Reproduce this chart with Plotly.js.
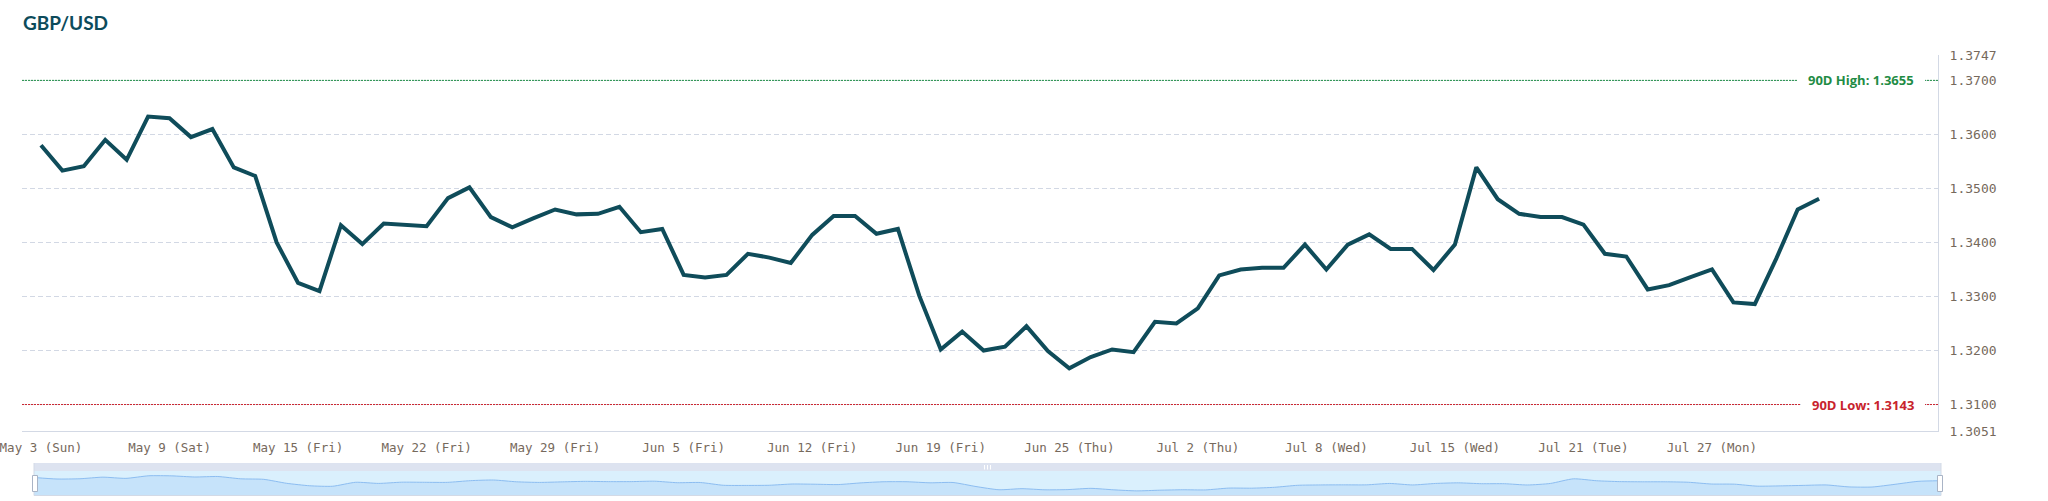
<!DOCTYPE html>
<html>
<head>
<meta charset="utf-8">
<script src="https://cdn.plot.ly/plotly-3.0.1.min.js"></script>
<style>
  html, body { margin:0; padding:0; background:#ffffff; }
  #chart { width:2048px; height:501px; }
</style>
</head>
<body>
<div id="chart"></div>
<script>
// ---------- data ----------
const dates = [
  "May 3 (Sun)","May 4 (Mon)","May 5 (Tue)","May 6 (Wed)","May 7 (Thu)","May 8 (Fri)",
  "May 9 (Sat)","May 10 (Sun)","May 11 (Mon)","May 12 (Tue)","May 13 (Wed)","May 14 (Thu)",
  "May 15 (Fri)","May 17 (Sun)","May 18 (Mon)","May 19 (Tue)","May 20 (Wed)","May 21 (Thu)",
  "May 22 (Fri)","May 24 (Sun)","May 25 (Mon)","May 26 (Tue)","May 27 (Wed)","May 28 (Thu)",
  "May 29 (Fri)","May 31 (Sun)","Jun 1 (Mon)","Jun 2 (Tue)","Jun 3 (Wed)","Jun 4 (Thu)",
  "Jun 5 (Fri)","Jun 7 (Sun)","Jun 8 (Mon)","Jun 9 (Tue)","Jun 10 (Wed)","Jun 11 (Thu)",
  "Jun 12 (Fri)","Jun 14 (Sun)","Jun 15 (Mon)","Jun 16 (Tue)","Jun 17 (Wed)","Jun 18 (Thu)",
  "Jun 19 (Fri)","Jun 20 (Sat)","Jun 21 (Sun)","Jun 22 (Mon)","Jun 23 (Tue)","Jun 24 (Wed)",
  "Jun 25 (Thu)","Jun 26 (Fri)","Jun 28 (Sun)","Jun 29 (Mon)","Jun 30 (Tue)","Jul 1 (Wed)",
  "Jul 2 (Thu)","Jul 3 (Fri)","Jul 4 (Sat)","Jul 5 (Sun)","Jul 6 (Mon)","Jul 7 (Tue)",
  "Jul 8 (Wed)","Jul 9 (Thu)","Jul 10 (Fri)","Jul 12 (Sun)","Jul 13 (Mon)","Jul 14 (Tue)",
  "Jul 15 (Wed)","Jul 16 (Thu)","Jul 17 (Fri)","Jul 18 (Sat)","Jul 19 (Sun)","Jul 20 (Mon)",
  "Jul 21 (Tue)","Jul 22 (Wed)","Jul 23 (Thu)","Jul 24 (Fri)","Jul 25 (Sat)","Jul 26 (Sun)",
  "Jul 27 (Mon)","Jul 28 (Tue)","Jul 29 (Wed)","Jul 30 (Thu)","Jul 31 (Fri)","Aug 1 (Sat)"
];

const rates = [
  1.3580,1.3533,1.3541,1.3590,1.3553,1.3633,1.3630,1.3595,1.3610,1.3539,1.3523,1.3400,
  1.3325,1.3310,1.3432,1.3397,1.3435,1.3432,1.3430,1.3482,1.3502,1.3447,1.3428,1.3445,
  1.3461,1.3452,1.3453,1.3466,1.3419,1.3425,1.3340,1.3335,1.3340,1.3379,1.3372,1.3362,
  1.3414,1.3449,1.3449,1.3416,1.3425,1.3301,1.3202,1.3235,1.3200,1.3207,1.3245,1.3199,
  1.3167,1.3188,1.3202,1.3197,1.3253,1.3250,1.3278,1.3339,1.3350,1.3353,1.3353,1.3396,
  1.3350,1.3396,1.3415,1.3388,1.3388,1.3349,1.3396,1.3539,1.3480,1.3453,1.3447,1.3447,
  1.3433,1.3379,1.3374,1.3313,1.3321,1.3336,1.3350,1.3289,1.3286,1.3370,1.3461,1.3481
];

const tickLabels = [
  "May 3 (Sun)","May 9 (Sat)","May 15 (Fri)","May 22 (Fri)","May 29 (Fri)","Jun 5 (Fri)",
  "Jun 12 (Fri)","Jun 19 (Fri)","Jun 25 (Thu)","Jul 2 (Thu)","Jul 8 (Wed)","Jul 15 (Wed)",
  "Jul 21 (Tue)","Jul 27 (Mon)"
];

const yTicks = [1.3051, 1.3100, 1.3200, 1.3300, 1.3400, 1.3500, 1.3600, 1.3700, 1.3747];
const yTickText = ["1.3051","1.3100","1.3200","1.3300","1.3400","1.3500","1.3600","1.3700","1.3747"];

const refLevels = [1.3700, 1.3100];
const refLabels = ["90D High: 1.3655", "90D Low: 1.3143"];

// ---------- geometry helpers (pixels -> paper) ----------
const FW = 2048, FH = 501;
const L = 22, R = 106, T = 55, B = 5;
const W = FW - L - R, H = FH - T - B;
const px = v => (v - L) / W;
const py = v => (FH - B - v) / H;

const refColors = ["#1f8c45", "#c8232c"];
const refLineColors = ["#1f8f45", "#cc2630"];

const shapes = [];
const annotations = [];
refLevels.forEach((lv, i) => {
  shapes.push({
    type: "line", xref: "paper", yref: "y",
    x0: px(22), x1: px(1938), y0: lv, y1: lv,
    line: { color: refLineColors[i], width: 1, dash: "2px,1px" },
    layer: "above"
  });
  annotations.push({
    xref: "paper", yref: "y", x: px(1925), y: lv,
    xanchor: "right", yanchor: "middle",
    text: refLabels[i], showarrow: false,
    font: { family: "Open Sans, sans-serif", size: 13, color: refColors[i], weight: 700 },
    bgcolor: "#ffffff", borderpad: 11, borderwidth: 0
  });
});

// slider decoration
shapes.push({ type:"rect", xref:"paper", yref:"paper", x0:px(34), x1:px(1941), y0:py(495), y1:py(471),
  fillcolor:"#daf0fd", line:{width:0}, layer:"below" });
shapes.push({ type:"rect", xref:"paper", yref:"paper", x0:px(34), x1:px(1941), y0:py(471), y1:py(463),
  fillcolor:"#dde3f0", line:{width:0}, layer:"below" });
shapes.push({ type:"line", xref:"paper", yref:"paper", x0:px(34), x1:px(1941), y0:py(495.5), y1:py(495.5),
  line:{color:"#d3dae6", width:1}, layer:"above" });
shapes.push({ type:"line", xref:"paper", yref:"paper", x0:px(34), x1:px(34), y0:py(495.5), y1:py(463),
  line:{color:"#d3dae6", width:1}, layer:"above" });
shapes.push({ type:"line", xref:"paper", yref:"paper", x0:px(1941), x1:px(1941), y0:py(495.5), y1:py(463),
  line:{color:"#d3dae6", width:1}, layer:"above" });
[[32.5, 37.5], [1937.5, 1942.5]].forEach(h => {
  shapes.push({ type:"rect", xref:"paper", yref:"paper", x0:px(h[0]), x1:px(h[1]), y0:py(491.5), y1:py(475.5),
    fillcolor:"#ffffff", line:{color:"#a9b4c6", width:1}, layer:"above" });
});
[984.5, 987.5, 990.5].forEach(g => {
  shapes.push({ type:"line", xref:"paper", yref:"paper", x0:px(g), x1:px(g), y0:py(469.5), y1:py(465),
    line:{color:"#ffffff", width:1}, layer:"above" });
});

const traces = [
  {
    x: dates, y: rates, type: "scatter", mode: "lines",
    line: { color: "#0f4c5a", width: 4 },
    xaxis: "x", yaxis: "y", hoverinfo: "x+y"
  },
  {
    x: dates, y: rates, type: "scatter", mode: "lines",
    line: { color: "#8cbdf1", width: 1, shape: "spline", smoothing: 0.6 },
    fill: "tozeroy", fillcolor: "#c6e3fa",
    xaxis: "x2", yaxis: "y2", hoverinfo: "skip"
  }
];

const tickFont = { family: "DejaVu Sans Mono, monospace", size: 13, color: "#76695c" };

const layout = {
  width: FW, height: FH,
  margin: { l: L, r: R, t: T, b: B, pad: 0 },
  paper_bgcolor: "#ffffff", plot_bgcolor: "rgba(0,0,0,0)",
  showlegend: false,
  title: {
    text: "GBP/USD", xref: "container", yref: "container",
    x: 23 / FW, xanchor: "left", y: 1 - 23.5 / FH, yanchor: "middle",
    font: { family: "Lato, sans-serif", size: 19, color: "#0d4b5b", weight: 700 }
  },
  xaxis: {
    type: "category", domain: [0, px(1938)],
    range: [-0.886, 88.55],
    tickmode: "array", tickvals: tickLabels, ticktext: tickLabels,
    tickfont: { family: "DejaVu Sans Mono, monospace", size: 12.5, color: "#76695c" },
    ticks: "outside", ticklen: 5, tickcolor: "rgba(0,0,0,0)",
    showgrid: false, zeroline: false,
    showline: true, linecolor: "#d3d9e5", linewidth: 1,
    automargin: false, fixedrange: true, anchor: "y"
  },
  yaxis: {
    domain: [py(431), 1], side: "right", anchor: "x",
    range: [1.3051, 1.3747],
    tickmode: "array", tickvals: yTicks, ticktext: yTickText,
    tickfont: tickFont,
    ticks: "outside", ticklen: 8, tickcolor: "rgba(0,0,0,0)",
    showgrid: true, gridcolor: "#d2d8e4", gridwidth: 1, griddash: "5px,3px",
    zeroline: false, showline: true, linecolor: "#d3d9e5", linewidth: 1,
    automargin: false, fixedrange: true
  },
  xaxis2: {
    type: "category", domain: [px(34), px(1941)], anchor: "y2",
    range: [0, 83], showticklabels: false, showgrid: false, zeroline: false,
    showline: false, ticks: "", fixedrange: true
  },
  yaxis2: {
    domain: [py(495), py(471)], anchor: "x2",
    range: [1.304, 1.378], showticklabels: false, showgrid: false, zeroline: false,
    showline: false, ticks: "", fixedrange: true
  },
  shapes: shapes,
  annotations: annotations
};

Plotly.newPlot("chart", traces, layout, { displayModeBar: false, staticPlot: false });
</script>
</body>
</html>
